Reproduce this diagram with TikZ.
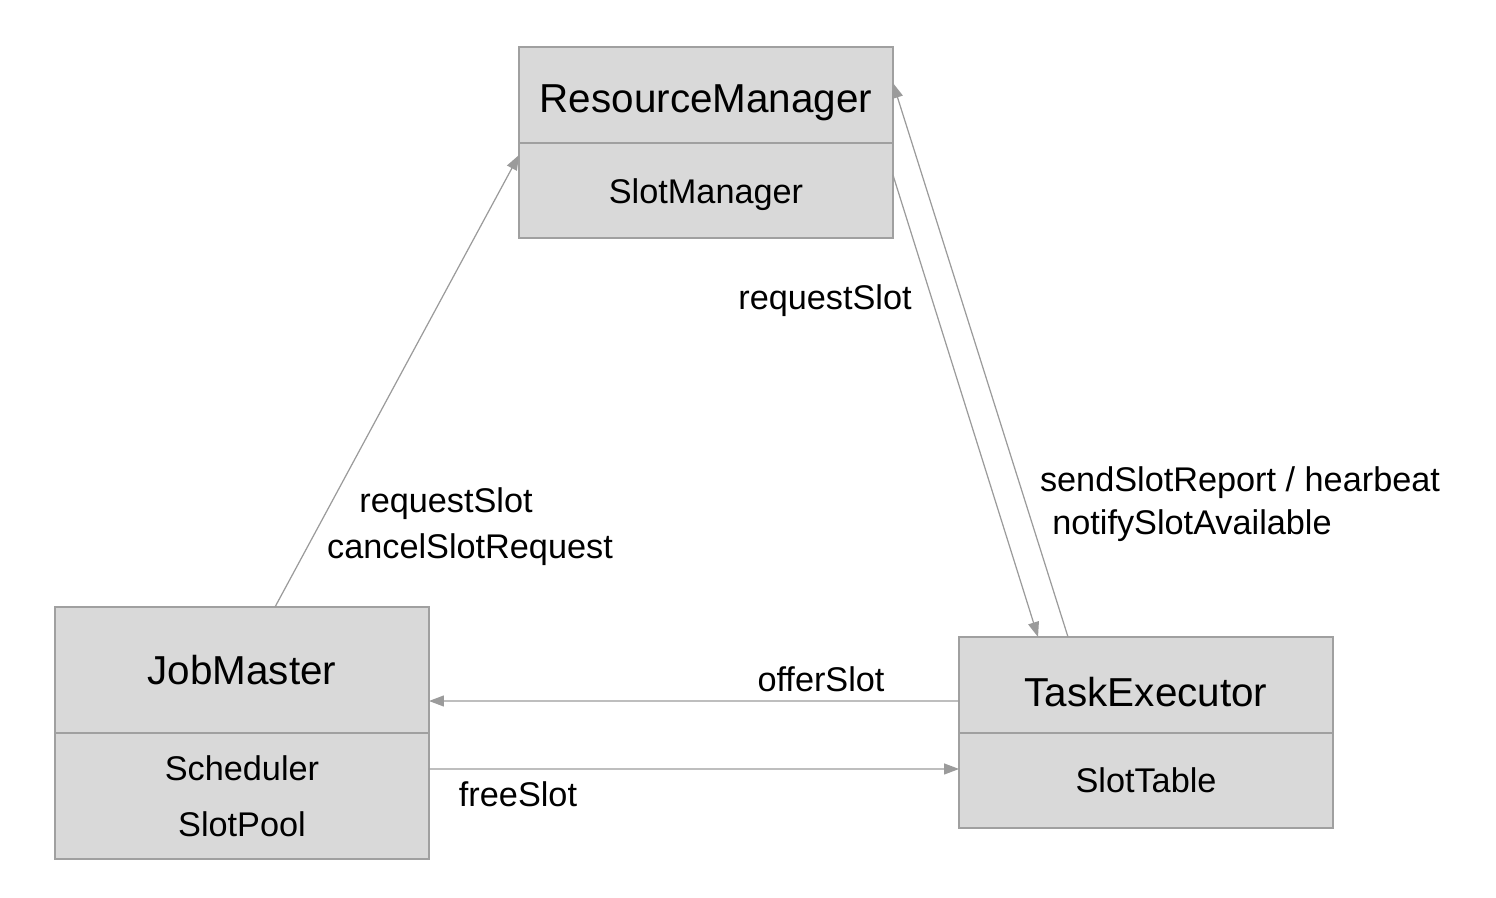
\documentclass[tikz,border=0pt]{standalone}
\usepackage{fontspec}
\setmainfont{Liberation Sans}
\usetikzlibrary{positioning,arrows.meta}
\definecolor{boxfill}{RGB}{217,217,217}
\definecolor{boxline}{RGB}{160,160,160}
\definecolor{arrline}{RGB}{155,155,155}

\begin{document}
\begin{tikzpicture}[x=0.02cm,y=-0.02cm,
    title/.style={draw=boxline,fill=boxfill,line width=0.8pt,outer sep=0pt,inner sep=0pt,
      minimum width=7.48cm,font=\fontsize{23}{27}\selectfont},
    part/.style={title,align=center,font=\fontsize{19.5}{32}\selectfont},
    link/.style={draw=arrline,line width=0.7pt,-{Triangle[length=0.3cm,width=0.22cm]}},
    lbl/.style={font=\fontsize{19.5}{23}\selectfont}]
    \useasboundingbox (0,0) rectangle (1496,898);
    % Boxes
    \node[title,minimum height=1.92cm,text height=25pt,text depth=5pt] (rm) at (706,95) {ResourceManager};
    \node[part,minimum height=1.9cm,text height=18.5pt,text depth=4pt,below=0pt of rm] (slotmgr) {SlotManager};
    \node[title,minimum height=2.52cm] (jm) at (242,670) {JobMaster};
    \node[part,minimum height=2.52cm,below=0pt of jm] (slots) {Scheduler\\SlotPool};
    \node[title,minimum height=1.92cm,text height=29pt,text depth=5pt] (te) at (1146,685) {TaskExecutor};
    \node[part,minimum height=1.9cm,below=0pt of te] (slottbl) {SlotTable};
    % Calls
    \draw[link] ([xshift=0.66cm]jm.north) -- ([yshift=0.71cm]slotmgr.west);
    \draw[link] ([yshift=0.31cm]slotmgr.east) -- ([xshift=-2.16cm]te.north);
    \draw[link] ([xshift=-1.56cm]te.north) -- ([yshift=0.24cm]rm.east);
    \draw[link] ([yshift=-0.32cm]te.west) -- ([yshift=-0.62cm]jm.east);
    \draw[link] ([yshift=0.54cm]slots.east) -- ([yshift=0.23cm]slottbl.west);
    % Labels
    \node[lbl] (rmreq) at (825,301) {requestSlot};
    \node[lbl] (jmreq) at (446,504) {requestSlot};
    \node[lbl] (jmcancel) at (470,550) {cancelSlotRequest};
    \node[lbl] (report) at (1240,483) {sendSlotReport / hearbeat};
    \node[lbl] (notify) at (1192,526) {notifySlotAvailable};
    \node[lbl] (offer) at (821,679) {offerSlot};
    \node[lbl] (free) at (518,794) {freeSlot};
\end{tikzpicture}
\end{document}
